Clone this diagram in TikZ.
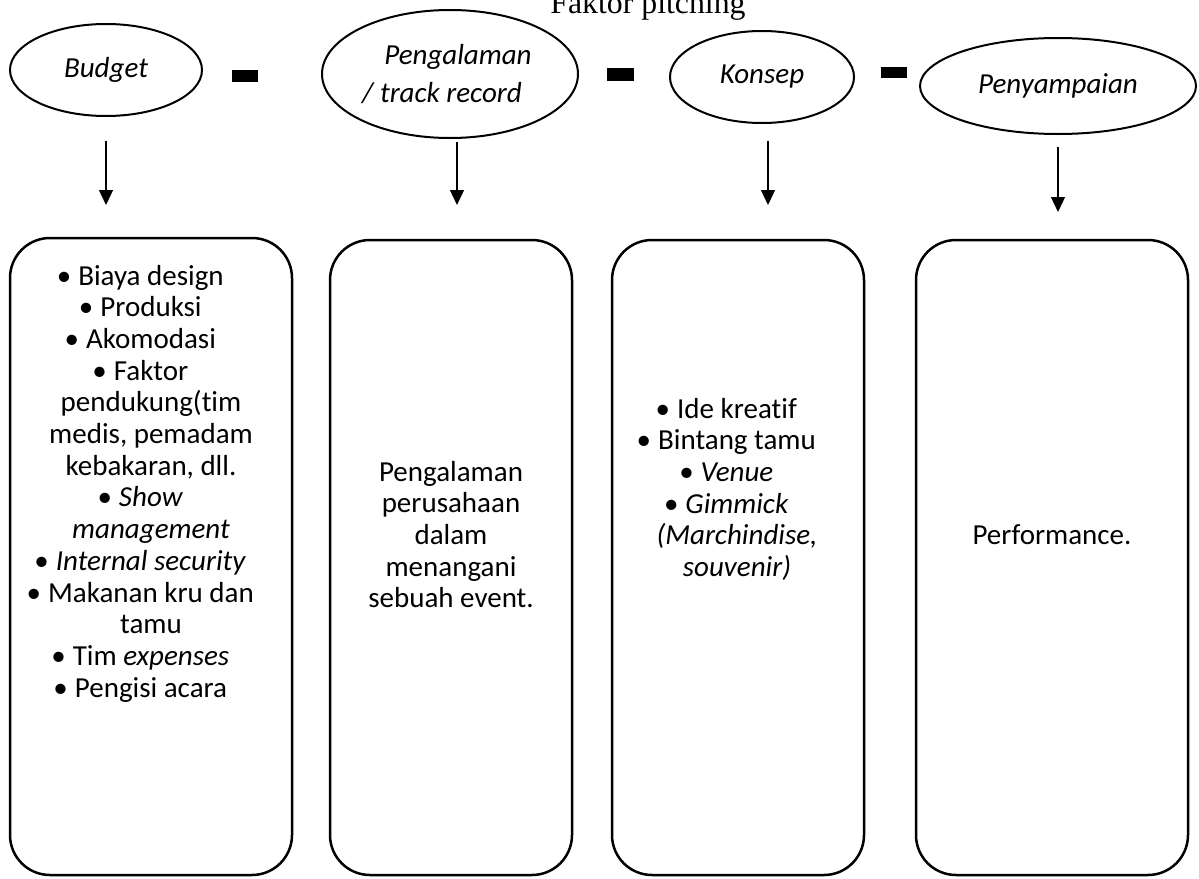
\documentclass[tikz,border=0pt]{standalone}
\usepackage{fontspec}
\setmainfont{Carlito}[Ligatures={NoCommon}]
\newfontfamily\titlefont{Liberation Serif}
\usetikzlibrary{shapes.geometric,arrows.meta}
\newcommand\itembul{\llap{•\hspace{7pt}}}
\begin{document}
\begin{tikzpicture}[x=1pt,y=-1pt,
  oval/.style={ellipse,draw,line width=2pt,inner sep=0pt,font=\fontsize{29}{38}\selectfont\itshape,align=center},
  card/.style={draw,line width=2.5pt,rounded corners=40pt,inner sep=0pt},
  bar/.style={fill=black,inner sep=0pt},
  txt/.style={font=\fontsize{29}{31.7}\selectfont,align=center,anchor=base,inner sep=0pt},
  arr/.style={line width=1.3pt,-{Triangle[width=14pt,length=15pt]}}]
\useasboundingbox (0,0) rectangle (1199,878);
% title
\node[anchor=base,inner sep=0pt,font=\titlefont\fontsize{31.8}{36}\selectfont] (title) at (648,13) {Faktor pitching};
% ellipses
\node[oval,minimum width=192pt,minimum height=92pt] (budget) at (106,70) {Budget};
\node[oval,minimum width=256pt,minimum height=128pt] (peng) at (450,74) {\hspace*{16pt}Pengalaman\\/ track record\hspace*{16pt}};
\node[oval,minimum width=184pt,minimum height=92pt] (konsep) at (762,77) {Konsep};
\node[oval,minimum width=276pt,minimum height=96pt] (peny) at (1058,86) {Penyampaian};
% bars
\node[bar,minimum width=26pt,minimum height=12pt] (d1) at (245,76) {};
\node[bar,minimum width=27pt,minimum height=13pt] (d2) at (620.5,74.5) {};
\node[bar,minimum width=26pt,minimum height=11pt] (d3) at (894,72.5) {};
% boxes
\node[card,minimum width=282pt,minimum height=637pt] (b1) at (151,556.5) {};
\node[card,minimum width=242pt,minimum height=635pt] (b2) at (451,557.5) {};
\node[card,minimum width=252pt,minimum height=635pt] (b3) at (738,557.5) {};
\node[card,minimum width=272pt,minimum height=635pt] (b4) at (1052,557.5) {};
% arrows
\coordinate (a1s) at (106,141); \coordinate (a1e) at (106,205);
\coordinate (a2s) at (457,142); \coordinate (a2e) at (457,205);
\coordinate (a3s) at (768,141); \coordinate (a3e) at (768,205);
\coordinate (a4s) at (1058,147); \coordinate (a4e) at (1058,212);
\draw[arr] (a1s) -- (a1e);
\draw[arr] (a2s) -- (a2e);
\draw[arr] (a3s) -- (a3e);
\draw[arr] (a4s) -- (a4e);
% texts (anchor base = baseline of last line)
\node[txt] (t1) at (151,697.1) {\itembul Biaya design\\ \itembul Produksi\\ \itembul Akomodasi\\ \itembul Faktor\\ pendukung(tim\\ medis, pemadam\\ kebakaran, dll.\\ \itembul \textit{Show}\\ \textit{management}\\ \itembul \textit{Internal security}\\ \itembul Makanan kru dan\\ tamu\\ \itembul Tim \textit{expenses}\\ \itembul Pengisi acara};
\node[txt] (t2) at (451,607.8) {Pengalaman\\ perusahaan\\ dalam\\ menangani\\ sebuah event.};
\node[txt] (t3) at (737,576.5) {\itembul Ide kreatif\\ \itembul Bintang tamu\\ \itembul \textit{Venue}\\ \itembul \textit{Gimmick}\\ \textit{(Marchindise,}\\ \textit{souvenir)}};
\node[txt] (t4) at (1052,544) {Performance.};
\end{tikzpicture}
\end{document}
